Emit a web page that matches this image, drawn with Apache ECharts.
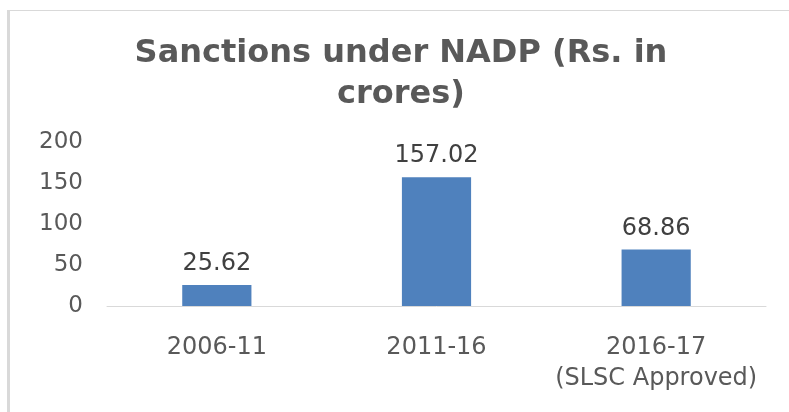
<!DOCTYPE html>
<html>
<head>
<meta charset="utf-8">
<script src="https://cdn.jsdelivr.net/npm/echarts@6/dist/echarts.min.js"></script>
<style>html,body{margin:0;padding:0;background:#fff;}#c{width:789px;height:412px;}</style>
</head>
<body>
<div id="c"></div>
<script>
var categories = ['2006-11', '2011-16', '2016-17\n(SLSC Approved)'];
var values = [25.62, 157.02, 68.86];
var yTicks = [0, 50, 100, 150, 200];
var titleText = 'Sanctions under NADP (Rs. in\ncrores)';

var chart = echarts.init(document.getElementById('c'), null, {renderer: 'canvas'});
chart.setOption({
  animation: false,
  backgroundColor: '#ffffff',
  title: {
    text: titleText,
    left: 396,
    top: 28,
    textAlign: 'center',
    textStyle: {
      fontFamily: 'DejaVu Sans',
      fontWeight: 'bold',
      fontSize: 32,
      lineHeight: 41,
      color: '#595959'
    }
  },
  grid: {left: 107, right: 23, top: 142, bottom: 106, containLabel: false},
  xAxis: {
    type: 'category',
    data: categories,
    axisLine: {show: true, lineStyle: {color: '#d9d9d9', width: 1}},
    axisTick: {show: false},
    axisLabel: {
      interval: 0,
      fontFamily: 'DejaVu Sans',
      fontSize: 24,
      color: '#595959',
      margin: 26,
      lineHeight: 31
    }
  },
  yAxis: {
    type: 'value',
    min: yTicks[0],
    max: yTicks[yTicks.length - 1],
    interval: 50,
    axisLine: {show: false},
    axisTick: {show: false},
    splitLine: {show: false},
    axisLabel: {
      fontFamily: 'DejaVu Sans',
      fontSize: 23,
      color: '#595959',
      margin: 24
    }
  },
  series: [{
    type: 'bar',
    data: values,
    barWidth: '31.5%',
    itemStyle: {color: '#4f81bd'},
    label: {
      show: true,
      position: 'top',
      distance: 9,
      fontFamily: 'DejaVu Sans',
      fontSize: 24,
      color: '#404040',
      formatter: function (p) { return p.value.toFixed(2); }
    }
  }],
  graphic: [
    {type: 'rect', shape: {x: 7, y: 10, width: 3, height: 402}, style: {fill: '#d9d9d9'}, silent: true},
    {type: 'rect', shape: {x: 7, y: 10, width: 782, height: 1}, style: {fill: '#d9d9d9'}, silent: true}
  ]
});
</script>
</body>
</html>
